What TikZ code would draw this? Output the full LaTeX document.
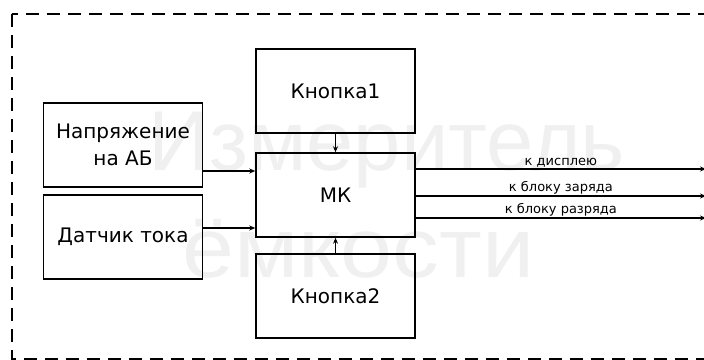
\documentclass[tikz,border=0pt]{standalone}
\usepackage{fontspec}
\setmainfont{DejaVu Sans}
\newfontfamily\wmfont{Liberation Sans}
\usetikzlibrary{arrows.meta}

\begin{document}
\begin{tikzpicture}[x=1pt, y=-1pt,
  block/.style={draw, line width=1.5pt, minimum width=159pt, minimum height=84pt,
                align=center, font=\fontsize{20}{27}\selectfont},
  arrow/.style={-{Stealth[length=6pt, width=5pt]}, line width=1.3pt},
  lbl/.style={above, inner sep=1.5pt, font=\fontsize{13}{15}\selectfont},
  wm/.style={anchor=base west, inner sep=0pt, text=black!6,
             font=\wmfont\fontsize{85}{100}\selectfont}
]
  \useasboundingbox (0,0) rectangle (704,359);
  % watermark
  \node[wm] (wm1) at (148,170) {Измеритель};
  \node[wm, xscale=1.1] (wm2) at (182,277) {ёмкости};
  \draw[line width=1.6pt, dash pattern=on 13pt off 8pt] (12,14) rectangle (720,359);
  \node[block] (volt) at (123,145) {Напряжение\\на АБ};
  \node[block] (cur)  at (123,237) {Датчик тока};
  \node[block] (btn1) at (335.5,91)  {Кнопка1};
  \node[block] (mk)   at (335.5,195) {МК};
  \node[block] (btn2) at (335.5,296) {Кнопка2};
  \coordinate (disp) at (706,169);
  \coordinate (chg)  at (706,196);
  \coordinate (dis)  at (706,218);
  \draw[arrow] ([yshift=-26pt]volt.east) -- ([yshift=-26pt]volt.east -| mk.west);
  \draw[arrow] ([yshift=9pt]cur.east) -- ([yshift=9pt]cur.east -| mk.west);
  \draw[arrow] (btn1) -- (mk);
  \draw[arrow] (btn2) -- (mk);
  \draw[arrow] (mk.east |- disp) -- node[lbl] {к дисплею} (disp);
  \draw[arrow] (mk.east |- chg) -- node[lbl] {к блоку заряда} (chg);
  \draw[arrow] (mk.east |- dis) -- node[lbl] {к блоку разряда} (dis);
\end{tikzpicture}
\end{document}
